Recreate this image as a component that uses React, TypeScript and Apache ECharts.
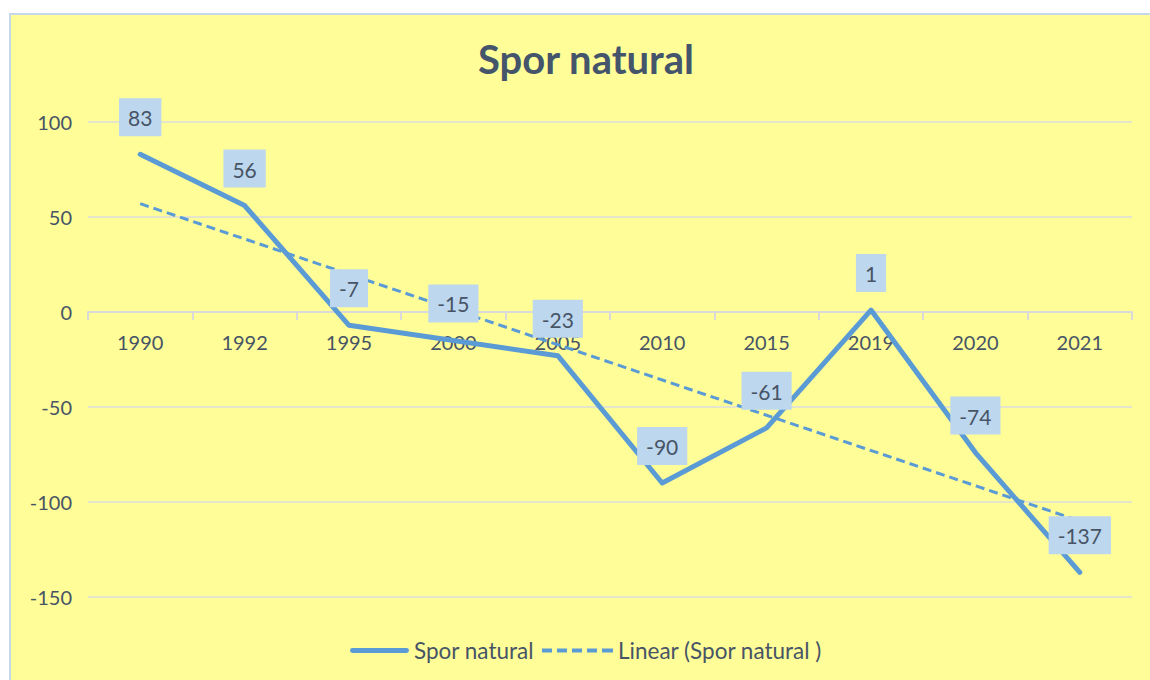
import React, { useEffect, useRef } from "react";
import * as echarts from "echarts";

const categories = ["1990", "1992", "1995", "2000", "2005", "2010", "2015", "2019", "2020", "2021"];
const sporNatural = [83, 56, -7, -15, -23, -90, -61, 1, -74, -137];
// Linear trend line, end points
const trendLine = [57, null, null, null, null, null, null, null, null, -110];
const yTicks = { min: -150, max: 100, interval: 50 };

const FONT = "Lato, 'Open Sans', sans-serif";
const TEXT = "#475466";
const BLUE = "#5B9BD5";

export default function App() {
  const ref = useRef<HTMLDivElement>(null);
  useEffect(() => {
    if (!ref.current) return;
    const chart = echarts.init(ref.current, undefined, { renderer: "svg" });
    chart.setOption({
      animation: false,
      backgroundColor: "#ffffff",
      textStyle: { fontFamily: FONT },
      graphic: [
        {
          type: "rect",
          z: -10,
          silent: true,
          shape: { x: 10, y: 14, width: 1200, height: 720 },
          style: { fill: "#FFFD98", stroke: "#C5D7EA", lineWidth: 2 },
        },
      ],
      title: {
        text: "Spor natural",
        left: 581,
        textAlign: "center",
        top: 34,
        textStyle: { fontFamily: FONT, fontSize: 40, fontWeight: "bold", color: "#44546A" },
      },
      legend: [
        {
          data: ["Spor natural"],
          left: 345,
          top: 634,
          icon: "path://M2,0H57A2,2 0 0 1 57,5H2A2,2 0 0 1 2,0Z",
          itemWidth: 59,
          itemHeight: 5,
          itemGap: 8,
          textStyle: { fontFamily: FONT, fontSize: 22.5, color: TEXT },
        },
        {
          data: ["Linear (Spor natural )"],
          left: 537,
          top: 634,
          icon: "path://M0,0h10v4H0Z M15,0h10v4H15Z M30,0h10v4H30Z M45,0h10v4H45Z M60,0h11v4H60Z",
          itemWidth: 71,
          itemHeight: 4,
          textStyle: { fontFamily: FONT, fontSize: 22.5, color: TEXT },
        },
      ],
      grid: { left: 88, right: 18, top: 122, bottom: 83, containLabel: false },
      xAxis: {
        type: "category",
        data: categories,
        boundaryGap: true,
        position: "bottom",
        offset: -285,
        axisLine: { onZero: false, lineStyle: { color: "#D9D9D9", width: 2 } },
        axisTick: { show: true, alignWithLabel: false, length: 8, lineStyle: { color: "#D9D9D9", width: 2 } },
        axisLabel: { fontFamily: FONT, fontSize: 20, color: TEXT, margin: 20 },
        splitLine: { show: false },
      },
      yAxis: {
        type: "value",
        min: yTicks.min,
        max: yTicks.max,
        interval: yTicks.interval,
        axisLine: { show: false },
        axisTick: { show: false },
        axisLabel: { fontFamily: FONT, fontSize: 20, color: TEXT, margin: 16 },
        splitLine: { lineStyle: { color: "#DCDCDC", width: 1.5 } },
      },
      series: [
        {
          name: "Spor natural",
          type: "line",
          data: sporNatural,
          symbol: "circle",
          symbolSize: 0.1,
          showSymbol: true,
          z: 3,
          lineStyle: { color: BLUE, width: 5, cap: "round", join: "round" },
          itemStyle: { color: BLUE },
          label: {
            show: true,
            position: "top",
            distance: 18,
            fontFamily: FONT,
            fontSize: 21,
            color: TEXT,
            backgroundColor: "#BDD7EE",
            padding: [9, 9, 8, 9],
          },
        },
        {
          name: "Linear (Spor natural )",
          type: "line",
          data: trendLine,
          connectNulls: true,
          symbol: "none",
          z: 2,
          lineStyle: { color: BLUE, width: 3, type: [9, 5] },
          itemStyle: { color: BLUE },
        },
      ],
    });
    return () => chart.dispose();
  }, []);
  return (
    <div
      ref={ref}
      style={{ position: "fixed", left: 0, top: 0, width: 1150, height: 680 }}
    />
  );
}
